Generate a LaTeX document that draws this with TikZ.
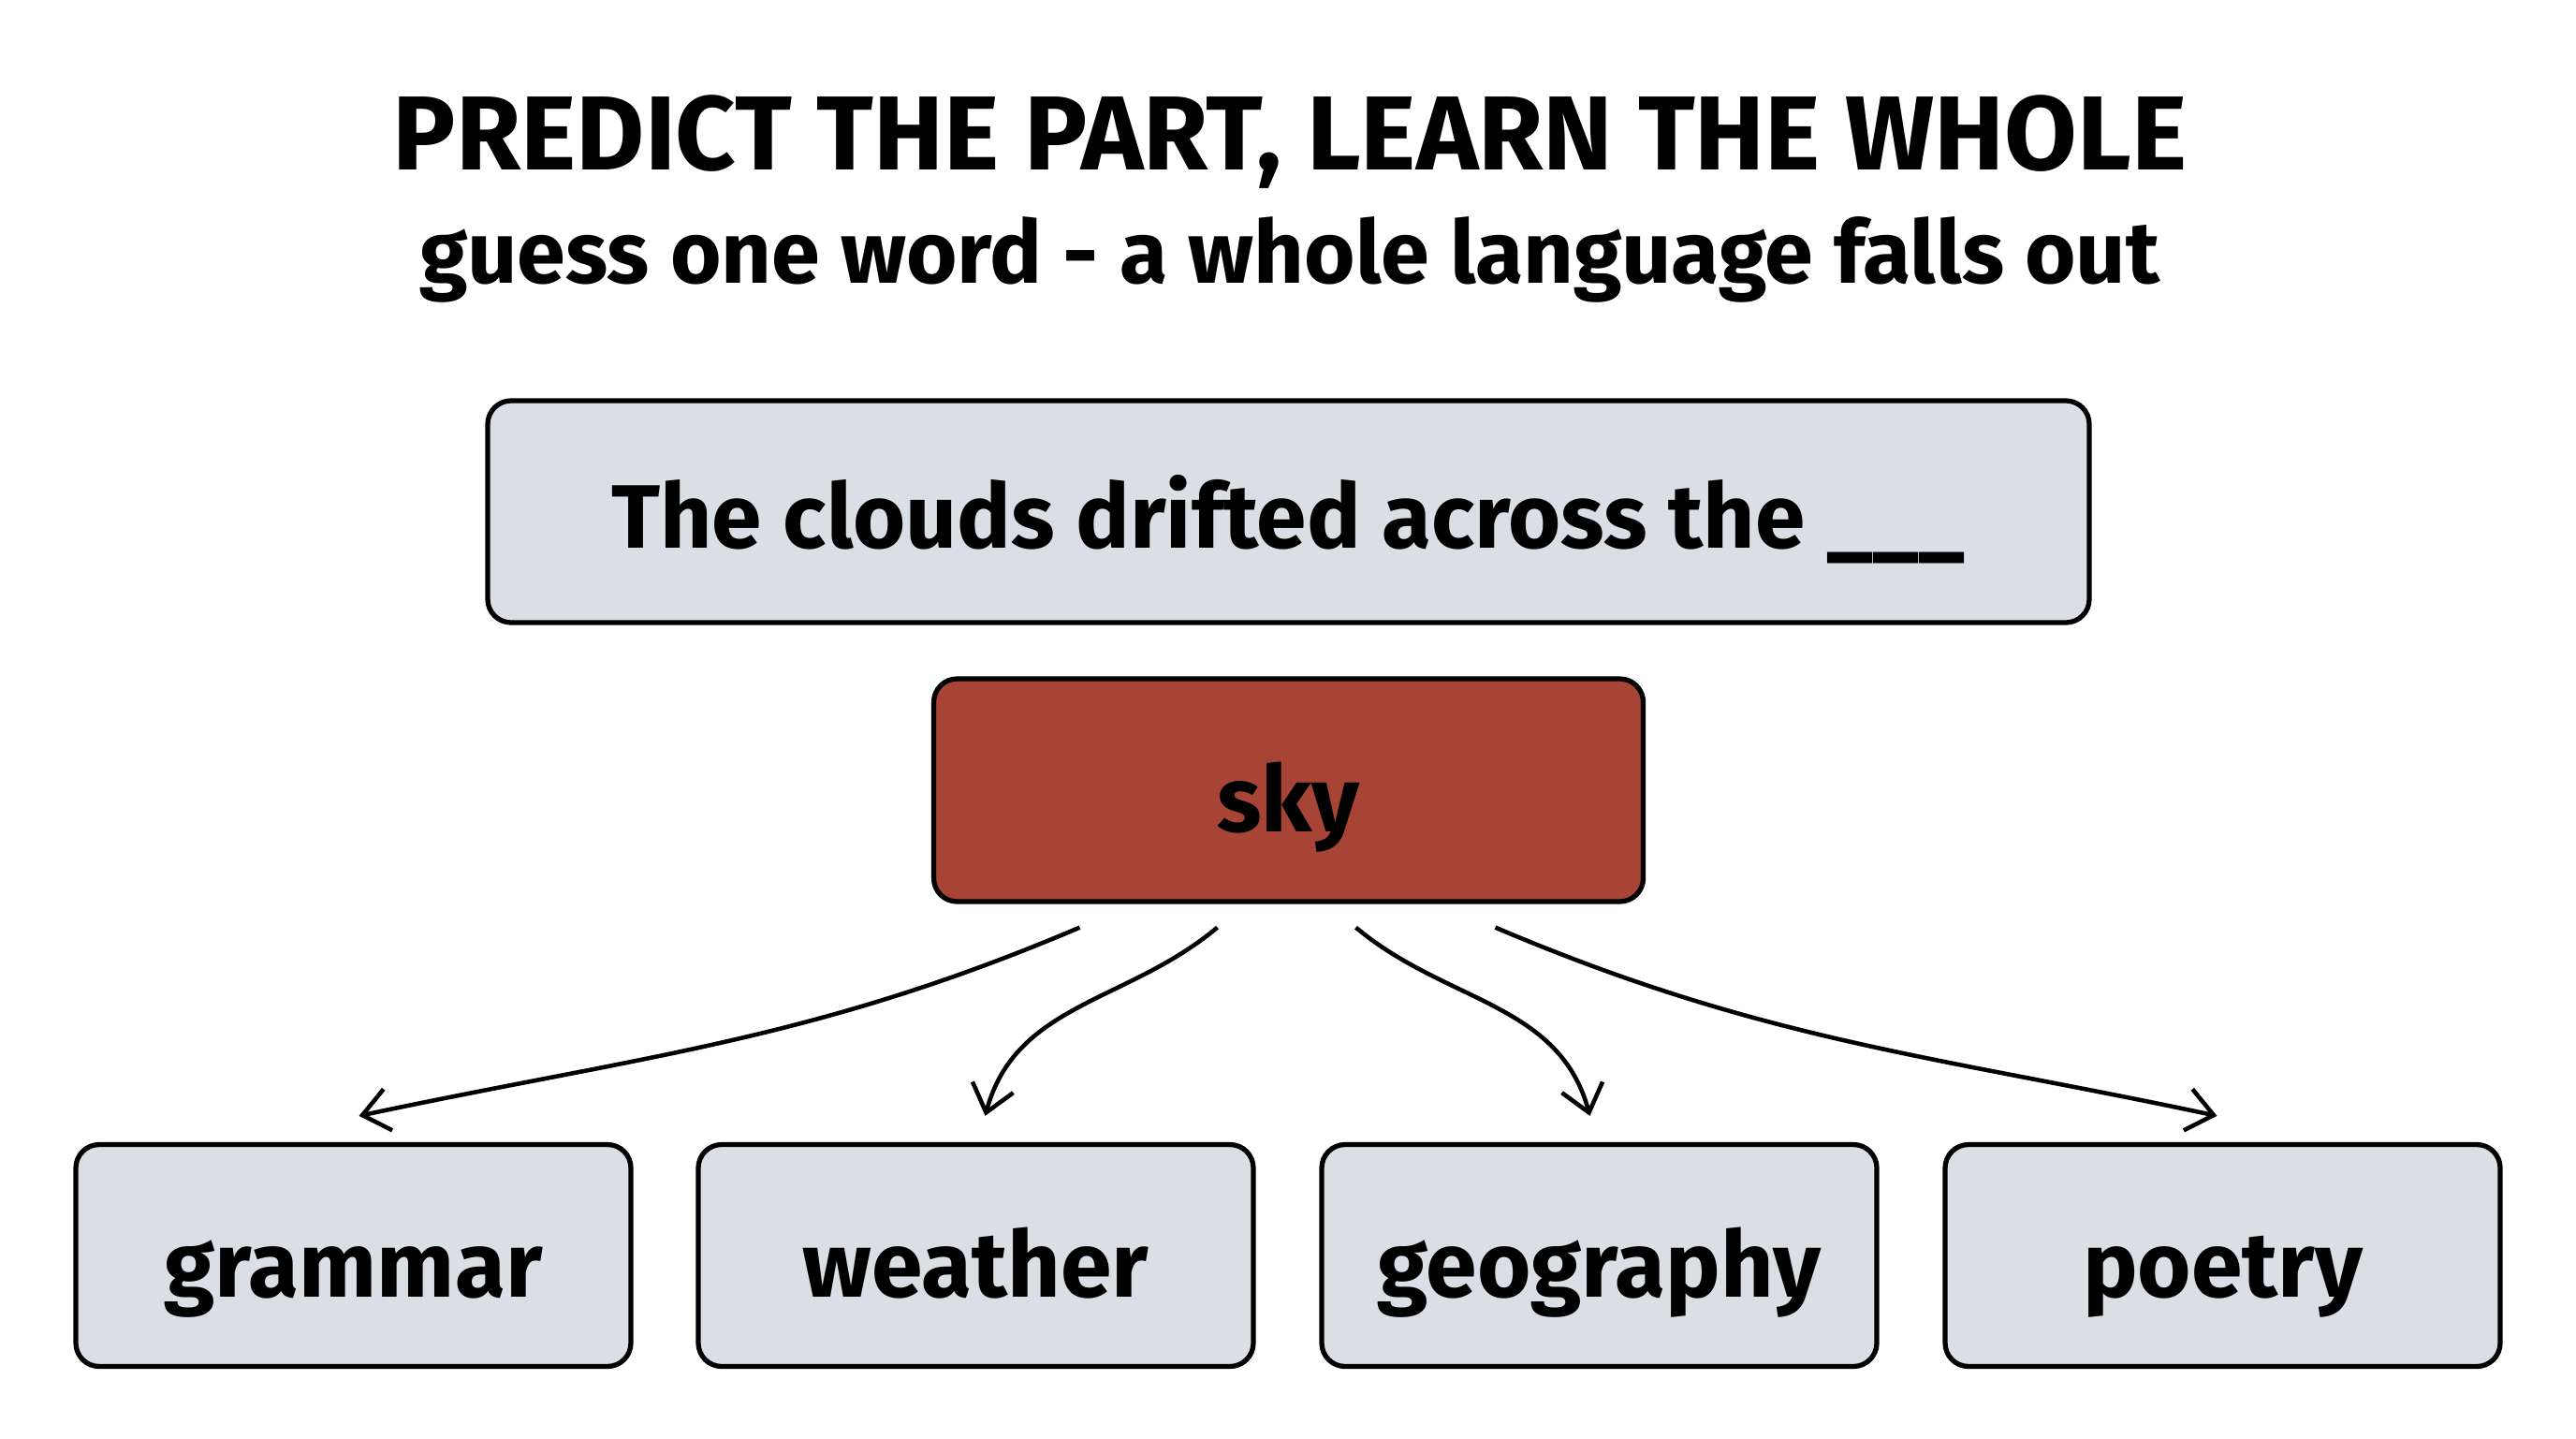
\documentclass[tikz,border=0pt]{standalone}
\usepackage{fontspec}
\setmainfont{Fira Sans}
\usetikzlibrary{arrows.meta,positioning}

\definecolor{cardfill}{HTML}{D9DFE4}
\definecolor{skyred}{HTML}{A84436}

\tikzset{
  card/.style={draw=black, line width=1.5pt, rounded corners=0.25cm, fill=cardfill,
    minimum width=5.93cm, minimum height=2.37cm, text height=0.88cm, text depth=0pt,
    font=\bfseries\fontsize{28}{32}\selectfont},
  sentence/.style={card, minimum width=17.11cm, text height=0.78cm, font=\bfseries\fontsize{27.4}{32}\selectfont},
  answer/.style={card, fill=skyred, minimum width=7.58cm, minimum height=2.38cm},
  branch/.style={-{Straight Barb[length=0.28cm,width=0.45cm]}, line width=1.3pt},
}

\begin{document}
\begin{tikzpicture}
\useasboundingbox (0,0) rectangle (27.52,-15.36);

% Define nodes
\path (13.78,-1.81)
node[anchor=base, font=\bfseries\fontsize{32}{36}\selectfont] (title) {PREDICT THE PART, LEARN THE WHOLE}
(title.base) +(0,-1.21) node[anchor=base, font=\bfseries\fontsize{26.6}{30}\selectfont] (sub) {guess one word - a whole language falls out}
(13.765,-5.465) node[sentence] (gap) {The clouds drifted across the \_\_\_}
(gap) +(0,-2.975) node[answer] (sky) {sky}
(sky) +(-9.99,-4.97) node[card] (grammar) {grammar}
(sky) +(-3.34,-4.97) node[card] (weather) {weather}
(sky) +(3.32,-4.97) node[card] (geo) {geography}
(sky) +(9.98,-4.97) node[card] (poetry) {poetry}
;

% Arrows
\draw[branch] ([xshift=-2.23cm, yshift=-0.25cm]sky.south) to[out=203, in=12] ([xshift=0.06cm, yshift=0.28cm]grammar.north);
\draw[branch] ([xshift=-0.76cm, yshift=-0.25cm]sky.south) to[out=220, in=75] ([xshift=0.1cm, yshift=0.28cm]weather.north);
\draw[branch] ([xshift=0.72cm, yshift=-0.25cm]sky.south) to[out=-40, in=105] ([xshift=-0.1cm, yshift=0.28cm]geo.north);
\draw[branch] ([xshift=2.21cm, yshift=-0.25cm]sky.south) to[out=-23, in=168] ([xshift=-0.06cm, yshift=0.28cm]poetry.north);

\end{tikzpicture}
\end{document}
